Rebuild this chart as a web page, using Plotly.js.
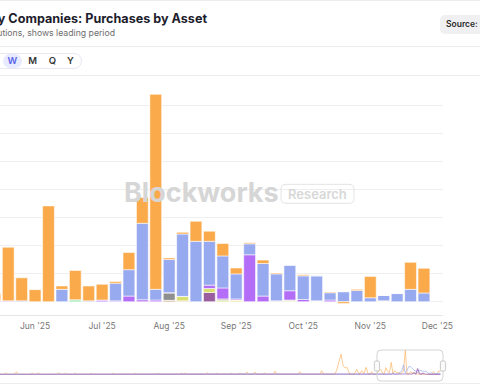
<!DOCTYPE html>
<html>
<head>
<meta charset="utf-8">
<script src="https://cdn.plot.ly/plotly-3.0.1.min.js"></script>
<style>
html,body{margin:0;padding:0;background:#fff;}
body{width:480px;height:384px;overflow:hidden;position:relative;font-family:Inter,"Noto Sans",sans-serif;}
#chart{position:absolute;left:-160px;top:0;width:640px;height:384px;}
.hl{position:absolute;left:0;width:480px;height:1px;background:#ececec;}
#title{position:absolute;right:273px;top:10.5px;font-size:12.6px;font-weight:700;color:#1d1d2c;white-space:nowrap;line-height:16px;}
#subtitle{position:absolute;right:365px;top:28px;font-size:8.7px;color:#6d6d6d;white-space:nowrap;line-height:11px;}
#source{position:absolute;left:440px;top:15px;width:70px;height:19px;background:#f0f0f2;border-radius:5px;font-size:8.5px;font-weight:600;color:#2a2a2a;line-height:19px;padding-left:6px;box-sizing:border-box;white-space:nowrap;}
#pill{position:absolute;left:-40px;top:52.5px;width:122px;height:16px;border:1px solid #e8e8f0;border-radius:9px;box-sizing:border-box;}
#wsel{position:absolute;left:2.5px;top:54px;width:19.5px;height:14px;background:#e8eaff;border-radius:7px;}
.pb{position:absolute;top:54px;height:14px;line-height:14px;width:16px;margin-left:-8px;text-align:center;font-size:9.5px;font-weight:600;color:#363636;}
</style>
</head>
<body>
<div class="hl" style="top:0"></div>
<div id="title">Treasury Companies: Purchases by Asset</div>
<div id="subtitle">Net flows across treasury institutions, shows leading period</div>
<div id="source">Source: Blockworks</div>
<div class="hl" style="top:46px"></div>
<div id="pill"></div>
<div id="wsel"></div>
<div class="pb" style="left:12.3px;color:#5a63e8">W</div>
<div class="pb" style="left:32.7px">M</div>
<div class="pb" style="left:52.3px">Q</div>
<div class="pb" style="left:70.3px">Y</div>
<div class="hl" style="top:75px"></div>
<div id="chart"></div>
<div class="hl" style="top:383px"></div>
<script>
// ---- data (weekly periods, index 0 = first visible week) ----
const weekIndex = [-4,-3,-2,-1,0,1,2,3,4,5,6,7,8,9,10,11,12,13,14,15,16,17,18,19,20,21,22,23,24,25,26,27,28,29,30,31,32];
const monthTickWeeks = [3,8,13,18,23,28,33];
const monthLabels = ["Jun '25","Jul '25","Aug '25","Sep '25","Oct '25","Nov '25","Dec '25"];

const btc    = [30,100,150,40, 24,191,82,43,341,12,104,53,56,6,61,92,694,6,6,71,36,44,21,4,12,3,0,4,0,3,-6,4,76,0,0,96,88];
const eth    = [0,0,0,0, 0,0,3,0,0,44,0,3,0,63,94,272,38,118,222,215,156,114,89,39,116,96,91,84,89,26,35,40,14,19,29,44,31];
const sol    = [0,0,0,0, 4,3,0,0,0,0,0,0,6,3,20,7,6,0,0,0,12,39,4,167,20,0,33,8,0,6,0,0,0,0,0,0,0];
const hype   = [0,0,0,0, 0,0,0,0,0,0,7,0,0,0,0,0,0,0,0,0,0,0,0,0,0,0,0,0,0,0,0,0,0,0,0,0,0];
const bnb    = [0,0,0,0, 0,0,0,0,0,0,0,0,0,0,0,0,0,0,16,0,14,5,6,0,0,0,3,0,3,0,0,0,0,3,0,0,0];
const other  = [0,0,0,0, 0,0,0,0,0,0,0,0,0,0,0,0,0,27,0,0,0,5,0,0,0,3,3,0,0,0,0,0,0,0,0,0,0];
const trx    = [0,0,0,0, 0,0,0,0,0,0,0,0,0,0,0,0,0,0,0,0,33,0,0,0,0,0,0,0,0,0,0,0,0,0,0,0,0];
const misc   = [0,0,0,0, 0,0,0,0,0,0,0,0,0,0,0,0,0,5,3,0,0,0,0,0,0,0,0,0,0,0,0,0,0,0,0,0,0];

// earlier history shown in the navigator (BTC purchases, sparse weeks)
const histWeek = [-252,-216,-215,-214,-210,-209,-208,-201,-200,-199,-197.5,-196.5,-195.5,-186,-185,-184,-182,-181,-180,-176.5,-175.5,-174.5,-167.5,-166.5,-165.5,-155,-154,-153,-142.5,-141.5,-140.5,-129.5,-128.5,-127.5,-116,-115,-114,-113,-112,-101.5,-100.5,-99.5,-96,-95,-94,-88,-87,-86,-83,-82,-81,-79,-78,-77,-74.5,-73.5,-72.5,-69,-68,-67,-63,-62,-61,-49,-48,-47,-36.5,-35.5,-34.5,-28,-27,-24.5,-23.3,-22.2,-21.3,-19.5,-17,-15.6,-14.2,-13.5,-12.8,-11.5,-10.3,-9,-8,-7.1,-6,-5];
const histBtc  = [0,0,40,0,0,70,0,0,35,0,0,45,0,0,45,0,0,30,0,0,35,0,0,30,0,0,30,0,0,30,0,0,30,0,0,35,0,35,0,0,45,0,0,30,0,0,30,0,0,30,0,0,65,0,0,65,0,0,35,0,0,90,0,0,75,0,0,105,0,0,120,572,235,180,210,0,0,143,0,40,105,20,200,0,0,75,0,0];

// ---- geometry helpers ----
const xr = [-4.09, 33.42];
const x2r = [-252.4, 33.42];
const ML = 100, MT = 80, MB = 2, W = 640, H = 384;
const PW = W - ML - 37, PH = H - MT - MB;
const pxX = sx => (sx + 160 - ML) / PW;          // screen x -> paper
const pxY = sy => (H - MB - sy) / PH;            // screen y -> paper
const x2paper = v => (v - x2r[0]) / (x2r[1] - x2r[0]);

function roundRect(x0, y0, x1, y1, r) {
  const X = pxX, Y = pxY;
  return `M${X(x0+r)},${Y(y0)} L${X(x1-r)},${Y(y0)} Q${X(x1)},${Y(y0)} ${X(x1)},${Y(y0+r)} ` +
         `L${X(x1)},${Y(y1-r)} Q${X(x1)},${Y(y1)} ${X(x1-r)},${Y(y1)} L${X(x0+r)},${Y(y1)} ` +
         `Q${X(x0)},${Y(y1)} ${X(x0)},${Y(y1-r)} L${X(x0)},${Y(y0+r)} Q${X(x0)},${Y(y0)} ${X(x0+r)},${Y(y0)} Z`;
}
const toScreenX = p => p * PW + ML - 160;

const series = [
  {name:'Other', y:misc, c:'#C9955A'},
  {name:'TRX', y:trx, c:'#9A5E9E'},
  {name:'BNB', y:bnb, c:'#D8DF6E'},
  {name:'Other Alts', y:other, c:'#8F8F8F'},
  {name:'HYPE', y:hype, c:'#72E294'},
  {name:'SOL', y:sol, c:'#B36DF7'},
  {name:'ETH', y:eth, c:'#97A9EF'},
  {name:'BTC', y:btc, c:'#FAAA4B'}
];

const traces = series.map(s => ({
  type:'bar', x:weekIndex, y:s.y, name:s.name, width:0.88,
  marker:{color:s.c, line:{color:'rgba(255,255,255,0.55)', width:1}},
  hoverinfo:'skip', xaxis:'x', yaxis:'y'
}));

traces.push({type:'scatter', mode:'lines', x:histWeek.concat(weekIndex), y:histBtc.concat(btc),
  line:{color:'rgba(250,170,75,0.6)', width:1}, xaxis:'x2', yaxis:'y2', hoverinfo:'skip'});
traces.push({type:'scatter', mode:'lines', x:[-252].concat(weekIndex), y:[0].concat(eth),
  line:{color:'rgba(150,168,239,0.65)', width:1}, xaxis:'x2', yaxis:'y2', hoverinfo:'skip'});
traces.push({type:'scatter', mode:'lines', x:[-252].concat(weekIndex), y:[0].concat(sol),
  line:{color:'rgba(165,120,190,0.85)', width:1.2}, xaxis:'x2', yaxis:'y2', hoverinfo:'skip'});

const bx0 = toScreenX(x2paper(xr[0])), bx1 = toScreenX(x2paper(xr[1]));
const shapes = [
  {type:'path', xref:'paper', yref:'paper', path:roundRect(281,184.3,354,203.3,5), line:{color:'#e3e3e3', width:1}},
  {type:'path', xref:'paper', yref:'paper', path:roundRect(bx0,350,bx1,381,4), line:{color:'#d4d4d4', width:1}},
  {type:'path', xref:'paper', yref:'paper', path:roundRect(bx0-2.6,361,bx0+2.6,371,1.5), fillcolor:'#fafafa', line:{color:'#c9c9c9', width:1}},
  {type:'path', xref:'paper', yref:'paper', path:roundRect(bx1-2.6,361,bx1+2.6,371,1.5), fillcolor:'#fafafa', line:{color:'#c9c9c9', width:1}}
];

const layout = {
  width:W, height:H,
  margin:{l:ML, r:37, t:MT, b:MB},
  paper_bgcolor:'rgba(0,0,0,0)', plot_bgcolor:'rgba(0,0,0,0)',
  barmode:'relative', bargap:0, showlegend:false,
  font:{family:'Inter, "Noto Sans", sans-serif'},
  xaxis:{anchor:'y', domain:[0,1], range:xr, tickvals:monthTickWeeks, ticktext:monthLabels,
    showgrid:false, zeroline:false, showline:true, linecolor:'#e6e6e6', linewidth:1, ticks:'',
    ticklabelstandoff:3, tickfont:{size:8.5, color:'#777'}, fixedrange:true},
  yaxis:{anchor:'x', domain:[pxY(315.2),1], range:[-48,789], dtick:100, tick0:0,
    gridcolor:'#efefef', gridwidth:1, zeroline:false, showline:false, showticklabels:false, fixedrange:true},
  xaxis2:{anchor:'y2', domain:[0,1], range:x2r, visible:false, fixedrange:true},
  yaxis2:{anchor:'x2', domain:[pxY(380), pxY(346)], range:[-163,809], visible:false, fixedrange:true},
  shapes:shapes,
  annotations:[
    {xref:'paper', yref:'paper', x:pxX(122), y:pxY(192), xanchor:'left', yanchor:'middle', showarrow:false,
     text:'Blockworks', font:{size:27, color:'#d6d6d6', weight:700}},
    {xref:'paper', yref:'paper', x:pxX(317.5), y:pxY(194), xanchor:'center', yanchor:'middle', showarrow:false,
     text:'Research', font:{size:13, color:'#d8d8d8', weight:600}}
  ]
};

Plotly.newPlot('chart', traces, layout, {displayModeBar:false, staticPlot:true});
</script>
</body>
</html>
